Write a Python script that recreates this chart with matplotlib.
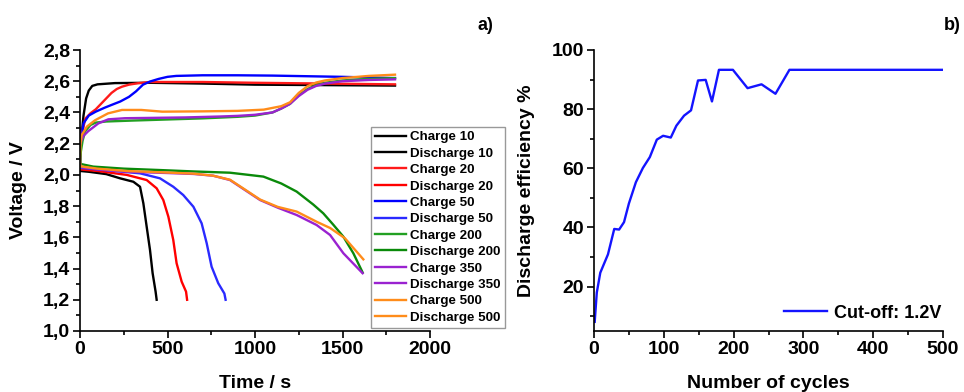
"""Charge/discharge voltage curves (a) and discharge efficiency vs cycles (b)."""

import matplotlib
matplotlib.use("Agg")
import matplotlib.pyplot as plt
from matplotlib.ticker import MultipleLocator, FuncFormatter

plt.rcParams["font.family"] = ["Liberation Sans", "DejaVu Sans"]
plt.rcParams["font.weight"] = "bold"
plt.rcParams["axes.labelweight"] = "bold"

# ---- panel a): voltage vs time ----
charge10_t = [0, 5, 10, 20, 35, 50, 70, 100, 200, 400, 700, 1000, 1400, 1800]
charge10_v = [2.10, 2.20, 2.26, 2.38, 2.49, 2.54, 2.570, 2.580, 2.588, 2.590, 2.585, 2.578, 2.575, 2.572]
dis10_t = [0, 2, 50, 150, 229, 305, 343, 362, 381, 400, 415, 432, 438]
dis10_v = [2.05, 2.025, 2.02, 2.005, 1.978, 1.956, 1.924, 1.818, 1.668, 1.519, 1.37, 1.252, 1.20]

charge20_t = [0, 5, 15, 30, 60, 90, 120, 150, 180, 210, 240, 280, 330, 400, 700, 1000, 1400, 1800]
charge20_v = [2.08, 2.20, 2.28, 2.36, 2.395, 2.42, 2.455, 2.49, 2.525, 2.55, 2.565, 2.578, 2.587, 2.595,
              2.595, 2.59, 2.585, 2.58]
dis20_t = [0, 2, 100, 267, 381, 438, 476, 505, 533, 552, 581, 606, 612]
dis20_v = [2.06, 2.035, 2.025, 2.0, 1.967, 1.914, 1.839, 1.732, 1.583, 1.434, 1.316, 1.252, 1.20]

charge50_t = [0, 5, 20, 50, 90, 140, 180, 230, 280, 320, 360, 400, 450, 500, 550, 700, 900, 1100,
              1300, 1500, 1800]
charge50_v = [2.08, 2.20, 2.33, 2.38, 2.405, 2.43, 2.448, 2.47, 2.50, 2.535, 2.578, 2.598, 2.615, 2.628,
              2.634, 2.638, 2.638, 2.636, 2.632, 2.628, 2.62]
dis50_t = [0, 2, 150, 343, 457, 533, 590, 648, 695, 724, 752, 790, 825, 832]
dis50_v = [2.07, 2.045, 2.03, 2.01, 1.978, 1.924, 1.871, 1.796, 1.69, 1.562, 1.412, 1.306, 1.24, 1.20]

charge200_t = [0, 5, 15, 30, 60, 90, 150, 300, 500, 700, 900, 1000, 1100, 1150, 1200, 1250, 1300,
               1350, 1400, 1500, 1650, 1800]
charge200_v = [2.08, 2.15, 2.22, 2.28, 2.32, 2.335, 2.342, 2.348, 2.355, 2.362, 2.372, 2.38, 2.40, 2.425,
               2.455, 2.51, 2.55, 2.575, 2.59, 2.605, 2.615, 2.62]
dis200_t = [0, 3, 76, 250, 457, 650, 857, 1048, 1150, 1238, 1333, 1390, 1448, 1505, 1562, 1615]
dis200_v = [2.10, 2.07, 2.053, 2.04, 2.031, 2.022, 2.014, 1.989, 1.945, 1.893, 1.81, 1.754, 1.68, 1.604,
            1.498, 1.375]

charge350_t = [0, 3, 8, 20, 47, 105, 162, 257, 400, 600, 800, 900, 1000, 1100, 1150, 1200, 1250, 1300,
               1350, 1400, 1500, 1650, 1800]
charge350_v = [2.30, 2.20, 2.22, 2.25, 2.28, 2.33, 2.356, 2.363, 2.365, 2.368, 2.374, 2.378, 2.385, 2.40,
               2.425, 2.455, 2.505, 2.545, 2.57, 2.585, 2.60, 2.608, 2.612]
dis350_t = [0, 2, 100, 267, 500, 648, 760, 857, 940, 1029, 1130, 1238, 1352, 1429, 1505, 1615]
dis350_v = [2.08, 2.05, 2.035, 2.02, 2.012, 2.006, 1.995, 1.967, 1.905, 1.839, 1.79, 1.743, 1.679, 1.615,
            1.498, 1.37]

charge500_t = [0, 3, 10, 40, 86, 160, 240, 350, 470, 700, 900, 1050, 1150, 1200, 1250, 1300, 1350,
               1400, 1500, 1650, 1800]
charge500_v = [2.10, 2.20, 2.256, 2.31, 2.35, 2.394, 2.416, 2.416, 2.405, 2.407, 2.41, 2.418, 2.44, 2.465,
               2.525, 2.568, 2.592, 2.605, 2.62, 2.634, 2.642]
dis500_t = [0, 2, 100, 267, 500, 648, 760, 857, 940, 1029, 1130, 1238, 1352, 1429, 1514, 1619]
dis500_v = [2.09, 2.055, 2.04, 2.025, 2.015, 2.008, 1.995, 1.969, 1.908, 1.842, 1.795, 1.765, 1.70, 1.66,
            1.594, 1.459]

# ---- panel b): discharge efficiency vs cycle number ----
cycles = [1, 4, 9, 20, 29, 36, 43, 50, 60, 70, 80, 90, 99, 110, 118, 129, 139, 149, 160, 169, 179,
          199, 220, 240, 260, 280, 500]
efficiency = [8.1, 18.0, 24.7, 30.9, 39.5, 39.3, 41.8, 48.1, 55.3, 60.1, 63.8, 69.7, 71.0, 70.4, 74.4,
              77.8, 79.6, 89.7, 89.9, 82.6, 93.3, 93.3, 87.1, 88.4, 85.2, 93.3, 93.3]

SERIES = [
    ("Charge 10", charge10_t, charge10_v, "#000000"),
    ("Discharge 10", dis10_t, dis10_v, "#000000"),
    ("Charge 20", charge20_t, charge20_v, "#FF1a1a"),
    ("Discharge 20", dis20_t, dis20_v, "#FF0000"),
    ("Charge 50", charge50_t, charge50_v, "#0000FF"),
    ("Discharge 50", dis50_t, dis50_v, "#2a2aff"),
    ("Charge 200", charge200_t, charge200_v, "#22a022"),
    ("Discharge 200", dis200_t, dis200_v, "#0a8a0a"),
    ("Charge 350", charge350_t, charge350_v, "#9a22d0"),
    ("Discharge 350", dis350_t, dis350_v, "#9a22d0"),
    ("Charge 500", charge500_t, charge500_v, "#ff8c1a"),
    ("Discharge 500", dis500_t, dis500_v, "#ff8c1a"),
]

W, H = 964, 392
fig = plt.figure(figsize=(W / 100, H / 100), dpi=100)
ax1 = fig.add_axes([80 / W, 61 / H, 350 / W, 281 / H])
ax2 = fig.add_axes([594 / W, 61 / H, 349 / W, 281 / H])


def style(ax):
    for side in ("top", "right"):
        ax.spines[side].set_visible(False)
    for side in ("left", "bottom"):
        ax.spines[side].set_linewidth(1.2)
    ax.tick_params(which="major", direction="out", length=5, width=1.2, labelsize=14, pad=2)
    ax.tick_params(which="minor", direction="out", length=3, width=1.2)
    for lab in ax.get_xticklabels() + ax.get_yticklabels():
        lab.set_fontweight("bold")


for name, t, v, color in SERIES:
    ax1.plot(t, v, color=color, lw=1.7, label=name)

ax1.set_xlim(0, 2000)
ax1.set_ylim(1.0, 2.8)
ax1.xaxis.set_major_locator(MultipleLocator(500))
ax1.xaxis.set_minor_locator(MultipleLocator(250))
ax1.yaxis.set_major_locator(MultipleLocator(0.2))
ax1.yaxis.set_minor_locator(MultipleLocator(0.1))
ax1.yaxis.set_major_formatter(FuncFormatter(lambda val, _: f"{val:.1f}".replace(".", ",")))
ax1.set_xlabel("Time / s", fontsize=14, fontweight="bold")
ax1.set_ylabel("Voltage / V", fontsize=14, fontweight="bold")
ax1.xaxis.set_label_coords(0.5, -0.157)
ax1.yaxis.set_label_coords(-0.151, 0.5)
style(ax1)
fig.legend(*ax1.get_legend_handles_labels(), loc="upper left",
           bbox_to_anchor=(371 / W, 1 - 127 / H), borderaxespad=0, borderpad=0.3,
           prop={"size": 9.6, "weight": "bold"}, handlelength=2.35, handletextpad=0.3,
           labelspacing=0.305, fancybox=False, framealpha=1, edgecolor="#999999")

ax2.plot(cycles, efficiency, color="#1414ff", lw=1.7, label="Cut-off: 1.2V")
ax2.set_xlim(0, 500)
ax2.set_ylim(5, 100)
ax2.xaxis.set_major_locator(MultipleLocator(100))
ax2.xaxis.set_minor_locator(MultipleLocator(50))
ax2.yaxis.set_major_locator(MultipleLocator(20))
ax2.yaxis.set_minor_locator(MultipleLocator(10))
ax2.set_xlabel("Number of cycles", fontsize=14, fontweight="bold")
ax2.set_ylabel("Discharge efficiency %", fontsize=14, fontweight="bold")
ax2.xaxis.set_label_coords(0.5, -0.157)
ax2.yaxis.set_label_coords(-0.169, 0.5)
style(ax2)
ax2.legend(loc="center right", bbox_to_anchor=(0.995, 0.064), frameon=False, borderaxespad=0,
           borderpad=0, prop={"size": 13, "weight": "bold"}, handlelength=2.36, handletextpad=0.38)

fig.text(478 / W, 1 - 25 / H, "a)", fontsize=13, fontweight="bold", va="center")
fig.text(944 / W, 1 - 25 / H, "b)", fontsize=13, fontweight="bold", va="center")

fig.savefig("out.png", dpi=100)
